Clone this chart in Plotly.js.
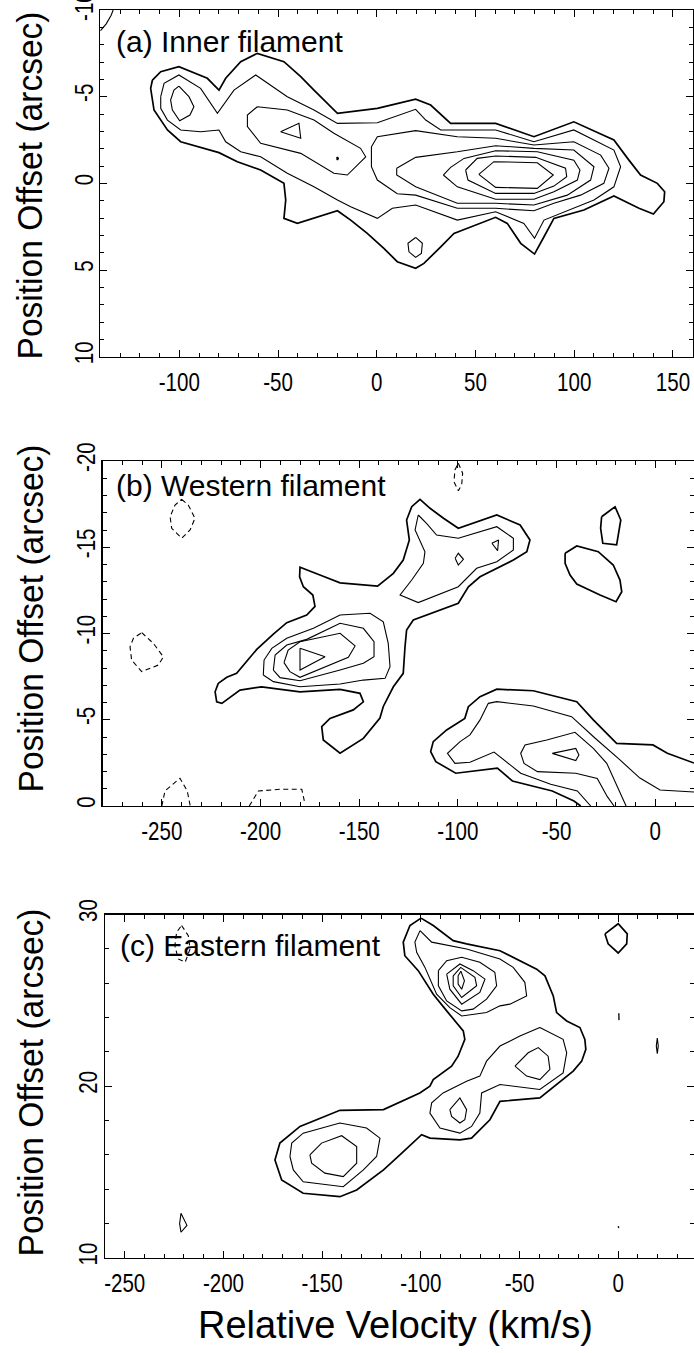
<!DOCTYPE html>
<html>
<head>
<meta charset="utf-8">
<script src="https://cdn.plot.ly/plotly-3.0.1.min.js"></script>
<style>html,body{margin:0;padding:0;background:#fff;}#plot{width:694px;height:1353px;}</style>
</head>
<body>
<div id="plot"></div>
<script>
// ---------- tick values ----------
const A_XTICKS = [-100, -50, 0, 50, 100, 150];
const A_YTICKS = [-10, -5, 0, 5, 10];
const B_XTICKS = [-250, -200, -150, -100, -50, 0];
const B_YTICKS = [-20, -15, -10, -5, 0];
const C_XTICKS = [-250, -200, -150, -100, -50, 0];
const C_YTICKS = [10, 20, 30];

// ---------- panel (a) Inner filament: contour lines [velocity km/s, offset arcsec] ----------
const A_L1 = [[-113.6,-5.96],[-109.4,-6.44],[-100.2,-6.73],[-85.8,-6.06],[-79.9,-5.38],[-76.5,-6.06],[-68.9,-7.02],[-60.5,-7.50],[-47.0,-7.02],[-38.5,-6.15],[-31.8,-5.38],[-19.9,-4.04],[0.3,-4.33],[19.7,-4.86],[27.3,-4.52],[37.4,-3.46],[60.2,-3.46],[79.6,-2.69],[99.8,-3.55],[120.1,-2.50],[127.7,-1.34],[133.6,-0.48],[142.1,0.0],[145.8,0.48],[145.4,1.06],[140.1,1.77],[132.8,1.44],[120.1,0.73],[104.9,1.54],[89.7,2.02],[84.7,3.08],[79.9,4.08],[72.9,3.46],[66.1,2.31],[60.2,1.96],[39.1,2.89],[32.4,3.66],[23.9,4.62],[19.7,4.90],[10.4,4.52],[3.6,3.75],[-4.8,2.89],[-13.2,2.12],[-19.9,1.58],[-40.2,2.31],[-47.0,2.02],[-46.1,0.96],[-47.0,0.0],[-58.8,-0.77],[-70.6,-1.25],[-79.9,-1.77],[-90.8,-2.11],[-99.3,-2.40],[-106.0,-3.08],[-112.8,-4.23],[-114.5,-5.48]];
const A_L2 = [[-109.4,-5.0],[-107.7,-5.77],[-100.2,-6.25],[-89.2,-5.48],[-80.7,-4.04],[-72.3,-5.38],[-61.3,-6.25],[-45.3,-5.0],[-31.8,-4.23],[-19.9,-3.46],[0.3,-3.5],[19.7,-4.27],[24.8,-3.65],[32.4,-3.08],[60.2,-3.08],[79.6,-2.40],[99.8,-3.08],[120.1,-1.92],[123.5,-0.96],[120.1,0.2],[110.0,0.96],[99.8,1.44],[84.7,2.12],[79.9,3.17],[74.5,2.31],[60.2,1.64],[40.8,2.12],[19.7,1.25],[7.9,1.44],[0.3,2.02],[-13.2,1.35],[-19.9,0.96],[-31.8,0.2],[-45.3,-0.58],[-58.8,-1.53],[-68.9,-1.82],[-76.5,-2.40],[-79.9,-3.08],[-89.2,-2.98],[-99.3,-3.08],[-106.0,-3.65],[-109.4,-4.33]];
const A_L2_ISLAND = [[19.7,3.12],[23.1,3.46],[22.6,4.04],[19.7,4.27],[16.3,3.95],[15.8,3.46]];
const A_L3_LEFT = [[-100.2,-5.61],[-95.1,-5.0],[-92.6,-4.42],[-94.6,-3.94],[-99.8,-3.61],[-103.5,-4.23],[-104.4,-4.81],[-102.7,-5.38]];
const A_L3_MID = [[-60.5,-4.42],[-45.3,-4.23],[-31.8,-3.65],[-21.7,-2.89],[-8.2,-2.02],[-5.6,-1.53],[-14.9,-0.48],[-21.7,-0.58],[-38.5,-1.73],[-58.8,-2.31],[-65.5,-3.27],[-65.5,-3.94]];
const A_L4_MID = [[-48.7,-2.98],[-39.4,-3.46],[-38.5,-2.60]];
const A_L4_DOT = [[-20.3,-1.44],[-19.9,-1.52],[-19.5,-1.44],[-19.9,-1.36]];
const A_L3_RIGHT = [[-2.7,-2.11],[0.3,-2.69],[19.7,-3.04],[40.8,-2.69],[60.2,-2.6],[79.6,-2.21],[99.8,-2.40],[113.4,-1.63],[117.6,-0.87],[115.0,0.0],[103.2,0.68],[89.7,1.15],[79.6,1.58],[60.2,1.44],[40.8,1.44],[19.7,0.68],[10.4,0.6],[0.3,-0.19],[-2.7,-0.96]];
const A_L4_RIGHT = [[10.1,-0.87],[19.7,-1.5],[40.8,-1.82],[60.2,-2.17],[79.6,-2.02],[99.8,-1.92],[110.0,-0.96],[108.3,-0.19],[96.5,0.68],[79.6,1.25],[60.2,1.15],[40.8,1.15],[19.7,0.2],[10.1,-0.48]];
const A_L5 = [[33.7,-0.48],[37.4,-0.92],[44.2,-1.44],[60.2,-1.88],[81.3,-1.82],[99.8,-1.34],[102.9,-0.77],[101.6,-0.19],[89.7,0.48],[79.6,0.92],[60.2,0.92],[40.8,0.2]];
const A_L6 = [[45.0,-0.77],[50.9,-1.44],[60.2,-1.58],[80.5,-1.5],[95.6,-0.87],[96.2,-0.38],[89.7,0.16],[79.6,0.58],[60.2,0.58],[46.2,-0.19]];
const A_L7 = [[51.7,-0.52],[59.3,-1.25],[81.3,-1.19],[89.4,-0.48],[81.3,0.29],[60.2,0.23]];
const A_CORNER = [[-140,-8.8],[-137,-9.2],[-134.5,-9.7],[-133.5,-10]];

// ---------- panel (b) Western filament ----------
const B_L1 = [[-221.4,-7.11],[-217.1,-7.46],[-212.1,-7.69],[-207.0,-8.37],[-201.9,-9.08],[-193.5,-9.97],[-186.7,-10.63],[-176.6,-11.07],[-172.4,-11.57],[-173.5,-12.23],[-178.3,-12.71],[-180.2,-13.29],[-180.0,-13.84],[-169.9,-13.39],[-159.7,-12.94],[-140.7,-12.75],[-132.7,-13.49],[-127.7,-14.26],[-124.6,-15.42],[-126.0,-16.58],[-123.4,-17.35],[-119.2,-17.78],[-114.1,-17.26],[-107.3,-16.68],[-99.8,-16.10],[-80.3,-16.87],[-68.5,-16.29],[-63.5,-15.42],[-65.1,-14.74],[-71.9,-14.26],[-88.8,-13.29],[-94.7,-12.71],[-99.8,-11.75],[-122.6,-10.78],[-126.0,-10.20],[-126.8,-9.23],[-127.7,-7.69],[-132.7,-6.91],[-137.8,-5.77],[-139.5,-5.10],[-147.9,-3.92],[-159.7,-3.06],[-168.2,-3.83],[-169.0,-4.60],[-164.8,-5.08],[-153.0,-5.57],[-147.9,-6.04],[-149.6,-6.53],[-159.7,-6.76],[-180.0,-6.62],[-199.4,-6.91],[-210.4,-6.72],[-215.4,-6.33],[-219.6,-5.95],[-222.2,-6.04],[-223.0,-6.62]];
const B_L2_LEFT = [[-198.6,-7.59],[-198.2,-8.46],[-194.3,-9.14],[-186.7,-9.72],[-173.2,-10.30],[-159.7,-11.07],[-144.5,-11.17],[-137.8,-10.68],[-135.3,-9.43],[-134.4,-8.08],[-136.9,-7.40],[-147.9,-7.30],[-159.7,-7.07],[-180.0,-6.91],[-193.5,-7.21]];
const B_L3_LEFT = [[-193.5,-7.88],[-192.6,-8.75],[-186.7,-9.33],[-176.6,-9.66],[-159.7,-10.59],[-147.9,-10.30],[-142.5,-9.52],[-142.5,-8.65],[-147.9,-8.27],[-159.7,-7.88],[-180.0,-7.26],[-190.1,-7.44]];
const B_L4_LEFT = [[-188.1,-8.31],[-186.0,-9.04],[-180.0,-9.52],[-159.7,-10.01],[-152.1,-9.28],[-155.5,-8.62],[-180.0,-7.46],[-185.1,-7.79]];
const B_L5_LEFT = [[-180.0,-9.14],[-167.3,-8.65],[-180.0,-7.88]];
const B_L2_UPPER = [[-120.1,-16.87],[-121.7,-16.0],[-116.7,-14.74],[-117.5,-14.07],[-123.4,-13.1],[-129.3,-12.23],[-120.1,-11.79],[-99.8,-12.71],[-90.5,-13.78],[-80.3,-14.16],[-71.9,-14.84],[-71.9,-15.52],[-80.3,-16.19],[-99.8,-15.52],[-110.8,-15.71],[-115.9,-16.39]];
const B_L3_DIAMOND = [[-101.4,-14.36],[-99.8,-14.65],[-97.2,-14.30],[-99.8,-13.97]];
const B_L3_TRIANGLE = [[-82.8,-15.23],[-79.4,-15.42],[-79.9,-14.80]];
const B_ISLAND_A = [[-27.2,-16.77],[-20.4,-17.35],[-17.5,-16.58],[-19.6,-15.14],[-26.6,-15.23],[-27.7,-16.10]];
const B_ISLAND_B = [[-45.7,-14.65],[-39.8,-15.07],[-28.9,-14.74],[-21.3,-13.97],[-17.9,-13.10],[-17.0,-12.42],[-19.9,-11.84],[-28.0,-12.23],[-39.8,-12.87],[-43.2,-13.39],[-45.7,-14.07]];
const B_L1_LOWER = [[-37.8,0],[-41.2,-0.29],[-52.2,-0.87],[-72.4,-1.45],[-80.0,-2.19],[-101.1,-1.90],[-111.2,-2.57],[-113.8,-3.15],[-112.5,-3.73],[-105.7,-4.41],[-96.5,-5.08],[-94.7,-5.76],[-88.8,-6.34],[-80.3,-6.77],[-61.8,-6.68],[-39.8,-6.05],[-31.4,-4.99],[-19.6,-3.63],[-1.2,-3.54],[6.1,-3.06],[19.6,-2.49]];
const B_L2_LOWER = [[-32.7,0],[-39.5,-0.87],[-53.0,-1.26],[-68.2,-1.90],[-81.7,-3.13],[-93.9,-2.54],[-101.5,-2.47],[-105.3,-3.05],[-98.9,-3.73],[-93.9,-4.12],[-88.8,-4.99],[-84.6,-5.95],[-80.3,-6.05],[-61.8,-5.80],[-42.4,-5.18],[-30.6,-3.94],[-17.9,-2.67],[-7.8,-1.62],[2.4,-0.93],[19.6,-0.81]];
const B_L3_LOWER = [[-14.8,0],[-24.6,-2.47],[-31.4,-3.34],[-40.7,-4.27],[-55.0,-3.83],[-66.0,-3.54],[-68.2,-3.05],[-66.5,-2.47],[-59.7,-1.99],[-40.3,-1.90],[-29.4,-1.60],[-24.3,-0.54],[-20.9,0]];
const B_L4_LOWER = [[-52.2,-3.05],[-40.3,-3.34],[-38.7,-2.96],[-40.3,-2.63]];
const B_NEG1 = [[-239.9,-17.78],[-236.6,-17.45],[-233.2,-16.68],[-235.7,-16.0],[-239.9,-15.52],[-245.0,-16.10],[-245.8,-16.77],[-243.3,-17.45]];
const B_NEG2 = [[-260.2,-10.05],[-254.3,-9.43],[-249.2,-8.65],[-251.8,-8.17],[-260.2,-7.79],[-265.3,-8.46],[-266.1,-9.23],[-264.4,-9.72]];
const B_NEG3 = [[-99.8,-19.87],[-97.6,-19.29],[-98.1,-18.61],[-99.8,-18.28],[-102.0,-18.80],[-101.5,-19.48]];
const B_NEG4 = [[-250.0,0],[-248.4,-0.87],[-240.8,-1.61],[-237.1,-0.87],[-235.6,0]];
const B_NEG5 = [[-205.7,0],[-201.1,-0.87],[-190.1,-0.97],[-179.1,-0.97],[-177.5,-0.13]];

// ---------- panel (c) Eastern filament ----------
const C_L1 = [[-99.9,29.79],[-93.7,29.36],[-83.6,28.48],[-76.8,28.29],[-59.9,27.89],[-51.5,27.41],[-41.3,26.82],[-37.1,26.43],[-32.9,25.26],[-31.2,24.29],[-26.1,23.80],[-19.4,23.42],[-16.9,22.73],[-16.4,22.15],[-18.5,21.46],[-22.8,20.88],[-39.7,19.32],[-59.9,19.12],[-65.0,18.05],[-74.3,16.98],[-80.2,16.88],[-95.4,16.98],[-99.6,17.18],[-110.6,16.01],[-118.9,15.13],[-132.5,13.96],[-141.0,13.57],[-159.6,13.77],[-170.5,14.54],[-173.9,15.71],[-171.4,16.69],[-161.2,17.66],[-141.0,18.60],[-118.9,18.64],[-100.5,19.61],[-95.4,20.0],[-93.7,20.39],[-84.4,21.17],[-81.1,21.75],[-77.7,22.73],[-78.5,23.22],[-86.9,24.39],[-93.7,25.36],[-101.3,26.73],[-108.1,27.60],[-108.9,28.39],[-105.5,29.36]];
const C_L2_UPPER = [[-100.4,29.06],[-94.5,28.39],[-76.8,27.99],[-59.9,27.41],[-53.2,26.92],[-47.3,26.05],[-46.4,25.26],[-54.9,24.78],[-59.9,24.68],[-66.7,24.29],[-79.3,24.09],[-85.3,24.58],[-92.0,25.36],[-95.4,26.24],[-97.9,26.92],[-102.1,27.80],[-103.0,28.39]];
const C_L3_UPPER = [[-91.1,26.73],[-86.9,27.31],[-79.3,27.51],[-70.1,27.22],[-62.5,26.63],[-61.6,25.85],[-66.7,25.07],[-73.5,24.49],[-79.3,24.39],[-86.9,24.97],[-91.1,25.85]];
const C_L4_UPPER = [[-86.9,26.53],[-80.2,27.12],[-73.5,26.73],[-67.5,26.24],[-70.1,25.46],[-79.3,24.78],[-85.3,25.65]];
const C_L5_UPPER = [[-83.6,26.43],[-79.8,26.92],[-72.6,26.34],[-71.7,25.85],[-79.3,25.17],[-83.6,25.85]];
const C_L6_UPPER = [[-81.1,26.43],[-79.7,26.7],[-77.9,26.14],[-79.3,25.65],[-81.1,25.95]];
const C_L2_MID = [[-39.7,23.42],[-27.9,22.73],[-26.1,21.95],[-27.9,20.78],[-39.7,19.81],[-59.9,20.10],[-69.2,19.61],[-70.1,18.44],[-74.3,17.66],[-80.2,17.27],[-90.3,17.57],[-95.4,18.44],[-94.5,19.03],[-88.7,19.61],[-76.8,20.29],[-70.1,20.59],[-66.7,21.46],[-59.9,22.34],[-49.8,22.92]];
const C_L3_MID_R = [[-52.3,21.17],[-45.6,21.95],[-40.5,22.25],[-35.5,21.75],[-34.6,20.98],[-39.7,20.39],[-46.4,20.59]];
const C_L3_MID_L = [[-85.3,18.64],[-80.2,19.32],[-76.8,18.64],[-77.7,18.05],[-80.2,17.86],[-84.4,18.25]];
const C_L2_LOWER = [[-166.3,15.91],[-165.4,16.69],[-159.6,17.27],[-141.0,17.86],[-127.5,17.57],[-120.7,16.98],[-122.4,15.91],[-129.1,15.13],[-139.3,14.15],[-159.6,14.44],[-164.6,15.13]];
const C_L3_LOWER = [[-156.2,16.01],[-150.3,16.69],[-140.1,17.12],[-132.5,16.49],[-132.5,15.52],[-139.3,14.74],[-148.6,14.94],[-155.3,15.52]];
const C_ISLAND_TOP = [[-6.7,28.87],[0.0,29.46],[4.6,28.87],[4.3,28.29],[0.0,27.76],[-5.1,28.29]];
const C_TICK = [[0.3,24.25],[0.4,23.85]];
const C_SMALL = [[19.8,22.8],[20.3,22.35],[19.8,21.9],[19.3,22.35]];
const C_DOT = [[0.0,11.85],[0.3,11.75]];
const C_DIAMOND = [[-221.5,12.6],[-218.5,11.9],[-221.5,11.5],[-222.2,12.0]];
const C_NEG1 = [[-221.2,29.36],[-217.8,28.77],[-216.9,27.99],[-219.4,27.22],[-222.9,27.41],[-224.6,28.19],[-223.7,28.97]];

// ---------- build traces ----------
const OUTER = 1.7, INNER = 1.1;
// [points, xaxis, yaxis, width, dashed, closed]
const lines = [
  [A_L1,'x','y',OUTER,false,true],[A_L2,'x','y',INNER,false,true],[A_L2_ISLAND,'x','y',INNER,false,true],
  [A_L3_LEFT,'x','y',INNER,false,true],[A_L3_MID,'x','y',INNER,false,true],[A_L4_MID,'x','y',INNER,false,true],
  [A_L4_DOT,'x','y',1.5,false,true],[A_L3_RIGHT,'x','y',INNER,false,true],[A_L4_RIGHT,'x','y',INNER,false,true],
  [A_L5,'x','y',INNER,false,true],[A_L6,'x','y',INNER,false,true],[A_L7,'x','y',INNER,false,true],
  [A_CORNER,'x','y',INNER,false,false],
  [B_L1,'x2','y2',OUTER,false,true],[B_L2_LEFT,'x2','y2',INNER,false,true],[B_L3_LEFT,'x2','y2',INNER,false,true],
  [B_L4_LEFT,'x2','y2',INNER,false,true],[B_L5_LEFT,'x2','y2',INNER,false,true],[B_L2_UPPER,'x2','y2',INNER,false,true],
  [B_L3_DIAMOND,'x2','y2',INNER,false,true],[B_L3_TRIANGLE,'x2','y2',INNER,false,true],
  [B_ISLAND_A,'x2','y2',OUTER,false,true],[B_ISLAND_B,'x2','y2',OUTER,false,true],
  [B_L1_LOWER,'x2','y2',OUTER,false,false],[B_L2_LOWER,'x2','y2',INNER,false,false],[B_L3_LOWER,'x2','y2',INNER,false,false],
  [B_L4_LOWER,'x2','y2',INNER,false,true],
  [B_NEG1,'x2','y2',INNER,true,true],[B_NEG2,'x2','y2',INNER,true,true],[B_NEG3,'x2','y2',INNER,true,true],
  [B_NEG4,'x2','y2',INNER,true,false],[B_NEG5,'x2','y2',INNER,true,false],
  [C_L1,'x3','y3',OUTER,false,true],[C_L2_UPPER,'x3','y3',INNER,false,true],[C_L3_UPPER,'x3','y3',INNER,false,true],
  [C_L4_UPPER,'x3','y3',INNER,false,true],[C_L5_UPPER,'x3','y3',INNER,false,true],[C_L6_UPPER,'x3','y3',INNER,false,true],
  [C_L2_MID,'x3','y3',INNER,false,true],[C_L3_MID_R,'x3','y3',INNER,false,true],[C_L3_MID_L,'x3','y3',INNER,false,true],
  [C_L2_LOWER,'x3','y3',INNER,false,true],[C_L3_LOWER,'x3','y3',INNER,false,true],
  [C_ISLAND_TOP,'x3','y3',OUTER,false,true],[C_TICK,'x3','y3',1.3,false,false],[C_SMALL,'x3','y3',INNER,false,true],
  [C_DOT,'x3','y3',1.3,false,false],[C_DIAMOND,'x3','y3',INNER,false,true],
  [C_NEG1,'x3','y3',INNER,true,true]
];

const traces = lines.map(([pts, xa, ya, w, dashed, closed]) => {
  const p = closed ? pts.concat([pts[0]]) : pts;
  return {
    type: 'scatter', mode: 'lines', xaxis: xa, yaxis: ya,
    x: p.map(d => d[0]), y: p.map(d => d[1]),
    line: {color: '#000', width: w, dash: dashed ? '5px,3.5px' : 'solid'},
    hoverinfo: 'skip', showlegend: false
  };
});

// ---------- layout ----------
const W = 694, H = 1353;
const MAINFONT = '"Liberation Sans", Arial, Helvetica, sans-serif';
const TICKFONT = {family: MAINFONT, size: 26, color: '#000'};

function axis(domain, range, tickvals, minorStep, anchor, isY) {
  return {
    domain: domain, range: range, anchor: anchor, autorange: false,
    tickmode: 'array', tickvals: tickvals, ticktext: tickvals.map(String),
    showline: true, linecolor: '#000', linewidth: 1.2, mirror: 'ticks',
    ticks: 'inside', ticklen: 7, tickwidth: 1, tickcolor: '#000',
    minor: {ticks: 'inside', ticklen: 4, tickwidth: 1, tickcolor: '#000', dtick: minorStep, tick0: 0, showgrid: false},
    showgrid: false, zeroline: false, tickfont: TICKFONT, ticklabeloverflow: 'allow',
    tickangle: isY ? -90 : 0, ticklabelstandoff: isY ? -4 : 2, fixedrange: true
  };
}
const yd = (top, bottom) => [1 - bottom / H, 1 - top / H];

const layout = {
  width: W, height: H, margin: {l: 0, r: 0, t: 0, b: 0, pad: 0},
  paper_bgcolor: '#fff', plot_bgcolor: '#fff', showlegend: false,
  xaxis:  axis([100.3 / W, 692.7 / W], [-140, 160], A_XTICKS, 10, 'y', false),
  yaxis:  axis(yd(10, 356.7), [10, -10], A_YTICKS, 1, 'x', true),
  xaxis2: axis([102.6 / W, 1], [-280, 19.6], B_XTICKS, 10, 'y2', false),
  yaxis2: axis(yd(461, 806), [0, -20], B_YTICKS, 1, 'x2', true),
  xaxis3: axis([105 / W, 1], [-260, 38.4], C_XTICKS, 10, 'y3', false),
  yaxis3: axis(yd(914.5, 1258), [10, 30], C_YTICKS, 2, 'x3', true),
  annotations: [
    {text: '(a) Inner filament', x: 114 / W, y: 1 - 42 / H},
    {text: '(b) Western filament', x: 114 / W, y: 1 - 486 / H},
    {text: '(c) Eastern filament', x: 118 / W, y: 1 - 945 / H}
  ].map(a => Object.assign(a, {xref: 'paper', yref: 'paper', xanchor: 'left', yanchor: 'middle', showarrow: false,
      font: {family: MAINFONT, size: 30, color: '#000'}}))
  .concat([186, 619, 1083].map(cy => ({
      text: 'Position Offset (arcsec)', x: 30 / W, y: 1 - cy / H, xref: 'paper', yref: 'paper',
      xanchor: 'center', yanchor: 'middle', textangle: -90, showarrow: false,
      font: {family: MAINFONT, size: 35, color: '#000'}})))
  .concat([{text: 'Relative Velocity (km/s)', x: 395 / W, y: 1 - 1325 / H, xref: 'paper', yref: 'paper',
      xanchor: 'center', yanchor: 'middle', showarrow: false,
      font: {family: MAINFONT, size: 38, color: '#000'}}])
};

// the reference lettering is condensed: squeeze glyph widths of the real text elements (idempotent)
function fit(t, target) {
  t.removeAttribute('textLength');
  t.removeAttribute('lengthAdjust');
  const L = t.getComputedTextLength();
  if (L > 0) {
    t.setAttribute('textLength', (typeof target === 'function' ? target(L) : target).toFixed(1));
    t.setAttribute('lengthAdjust', 'spacingAndGlyphs');
  }
}
const TICK_SEL = ['xtick', 'x2tick', 'x3tick', 'ytick', 'y2tick', 'y3tick'].map(c => 'g.' + c + ' text').join(', ');
function squeeze() {
  const gd = document.getElementById('plot');
  gd.querySelectorAll(TICK_SEL).forEach(t => fit(t, L => L * 0.79));
  gd.querySelectorAll('.annotation-text').forEach(t => {
    if (t.textContent === 'Position Offset (arcsec)') fit(t, 348);
  });
}

Plotly.newPlot('plot', traces, layout, {staticPlot: true, displayModeBar: false}).then(gd => {
  squeeze();
  gd.on('plotly_afterplot', squeeze);
  setTimeout(squeeze, 50);
  setTimeout(squeeze, 300);
});
</script>
</body>
</html>
